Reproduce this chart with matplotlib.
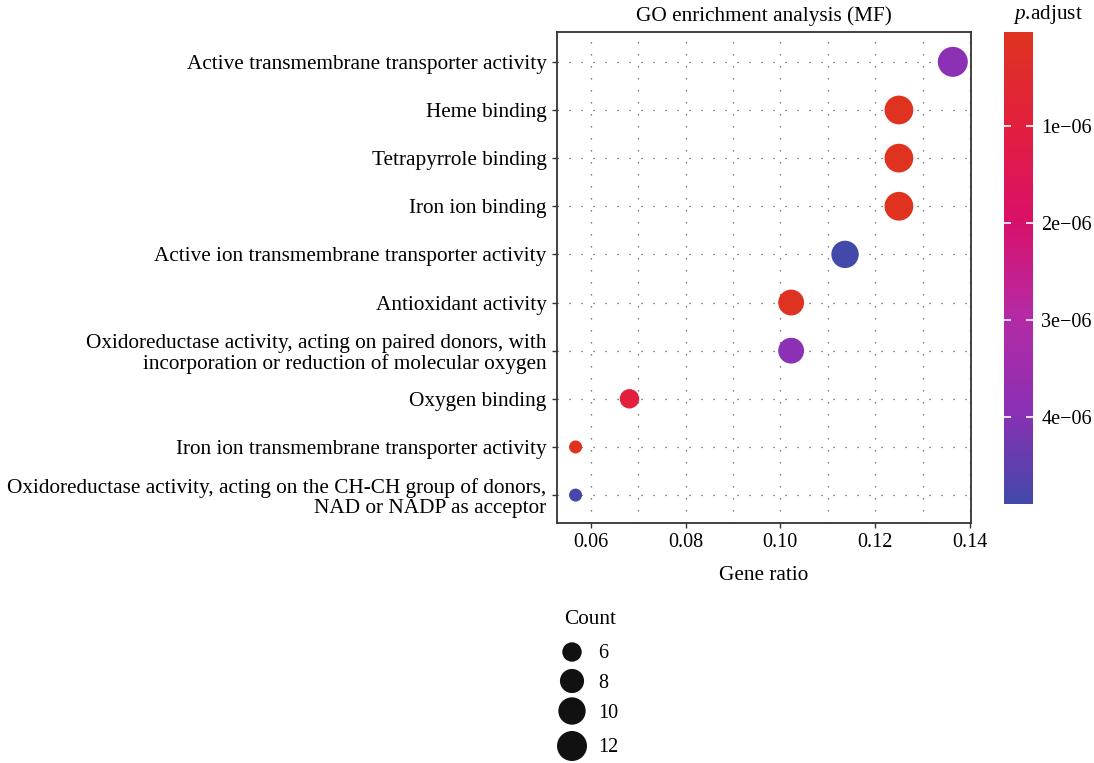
import numpy as np
import matplotlib
matplotlib.use("Agg")
import matplotlib.pyplot as plt
from matplotlib.colors import LinearSegmentedColormap, Normalize
from matplotlib.ticker import MultipleLocator, FixedLocator

plt.rcParams["font.family"] = ["Liberation Serif", "DejaVu Serif"]
plt.rcParams["mathtext.fontset"] = "custom"
plt.rcParams["mathtext.rm"] = "Liberation Serif"
plt.rcParams["mathtext.it"] = "Liberation Serif:italic"

# GO terms, listed bottom to top
terms = [
    "Oxidoreductase activity, acting on the CH-CH group of donors,\nNAD or NADP as acceptor",
    "Iron ion transmembrane transporter activity",
    "Oxygen binding",
    "Oxidoreductase activity, acting on paired donors, with\nincorporation or reduction of molecular oxygen",
    "Antioxidant activity",
    "Active ion transmembrane transporter activity",
    "Iron ion binding",
    "Tetrapyrrole binding",
    "Heme binding",
    "Active transmembrane transporter activity",
]
counts = [5, 5, 6, 9, 9, 10, 11, 11, 11, 12]
gene_ratio = [5 / 88, 5 / 88, 6 / 88, 9 / 88, 9 / 88, 10 / 88, 11 / 88, 11 / 88, 11 / 88, 12 / 88]
p_adjust = [4.85e-6, 5e-8, 1.0e-6, 3.9e-6, 5e-8, 4.9e-6, 3e-8, 3e-8, 3e-8, 3.9e-6]

x_ticks = [0.06, 0.08, 0.10, 0.12, 0.14]
x_ticklabels = ["0.06", "0.08", "0.10", "0.12", "0.14"]
legend_counts = [6, 8, 10, 12]
cbar_ticks = [1e-6, 2e-6, 3e-6, 4e-6]
cbar_labels = ["1e\u221206", "2e\u221206", "3e\u221206", "4e\u221206"]

W, H = 1094, 763
DPI = 100
FS = 15.3
FS_SMALL = 14.5
fig = plt.figure(figsize=(W / DPI, H / DPI), dpi=DPI)

cmap = LinearSegmentedColormap.from_list(
    "padj",
    [(0.0, "#DF3320"), (0.2, "#E21F3E"), (0.4, "#D9106A"),
     (0.6, "#B52AA5"), (0.8, "#8B30B4"), (1.0, "#4249A8")],
)
norm = Normalize(vmin=min(p_adjust), vmax=max(p_adjust))

cmin, cmax = 5, 12
dmin_px, dmax_px = 13.0, 30.0


def marker_area(c):
    c = np.asarray(c, dtype=float)
    d = dmin_px + (dmax_px - dmin_px) * np.sqrt((c - cmin) / (cmax - cmin))
    return (d * 72.0 / DPI) ** 2


ax = fig.add_axes([557 / W, 1 - 523 / H, (971 - 557) / W, (523 - 32) / H])
ypos = np.arange(1, len(terms) + 1)
ax.scatter(gene_ratio, ypos, s=marker_area(counts), c=p_adjust, cmap=cmap,
           norm=norm, edgecolors="none", zorder=3)
ax.set_xlim(0.0529, 0.1402)
ax.set_ylim(0.42, 10.62)
ax.set_yticks(ypos)
ax.set_yticklabels(terms, fontsize=FS, linespacing=1.1)
ax.xaxis.set_major_locator(FixedLocator(x_ticks))
ax.set_xticklabels(x_ticklabels, fontsize=FS_SMALL)
ax.xaxis.set_minor_locator(MultipleLocator(0.01))
ax.tick_params(axis="both", which="major", direction="out", length=3.5,
               width=1.0, color="#333333", pad=4)
ax.tick_params(axis="x", which="minor", length=0)
grid_style = dict(color="#555555", linewidth=0.9, linestyle=(0, (1, 8.6)))
ax.grid(True, which="both", axis="x", **grid_style)
ax.grid(True, which="major", axis="y", **grid_style)
ax.set_axisbelow(True)
for sp in ax.spines.values():
    sp.set_linewidth(1.3)
    sp.set_color("#333333")
ax.set_xlabel("Gene ratio", fontsize=FS, labelpad=10)
ax.set_title("GO enrichment analysis (MF)", fontsize=FS, pad=8)

# colour bar for adjusted p-values
cax = fig.add_axes([1004 / W, 1 - 504 / H, 29 / W, (504 - 32) / H])
sm = plt.cm.ScalarMappable(norm=norm, cmap=cmap)
cb = fig.colorbar(sm, cax=cax)
cb.outline.set_visible(False)
cax.invert_yaxis()
cb.set_ticks(cbar_ticks)
cb.set_ticklabels(cbar_labels)
cax.yaxis.set_ticks_position("both")
cax.tick_params(axis="y", direction="in", length=5, width=1.2, color="white",
                labelsize=FS_SMALL, pad=6, labelleft=False, labelright=True)
fig.text(1048 / W, 1 - 14 / H, r"$\mathit{p}$.adjust", fontsize=FS,
         ha="center", va="center")

# size legend for gene counts
lax = fig.add_axes([540 / W, 0, 120 / W, 163 / H])
lax.set_xlim(0, 120)
lax.set_ylim(163, 0)
lax.axis("off")
leg_y = [52, 81, 111, 146]
lax.scatter([32] * len(legend_counts), leg_y, s=marker_area(legend_counts),
            color="#111111", edgecolors="none", clip_on=False)
for yy, c in zip(leg_y, legend_counts):
    lax.text(58, yy + 2, str(c), fontsize=FS_SMALL, va="center", ha="left")
lax.text(50, 20, "Count", fontsize=FS, va="center", ha="center")

fig.savefig("out.png", dpi=DPI)
